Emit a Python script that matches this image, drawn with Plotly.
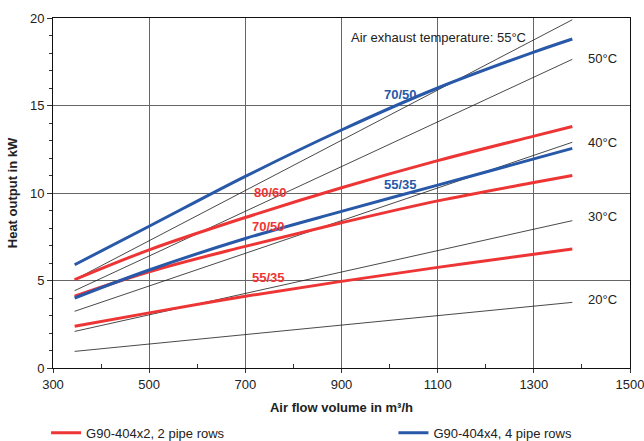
import plotly.graph_objects as go

airflow = [345, 500, 700, 900, 1100, 1300, 1380]

# G90-404x2, 2 pipe rows (heat output, kW)
x2_80_60 = [5.05, 6.75, 8.6, 10.3, 11.85, 13.25, 13.8]
x2_70_50 = [4.1, 5.5, 6.95, 8.3, 9.55, 10.6, 11.0]
x2_55_35 = [2.38, 3.15, 4.1, 4.95, 5.75, 6.5, 6.8]

# G90-404x4, 4 pipe rows
x4_70_50 = [5.9, 8.1, 10.95, 13.6, 16.0, 18.05, 18.8]
x4_55_35 = [4.0, 5.6, 7.4, 8.95, 10.45, 11.95, 12.55]

# air exhaust temperature lines (start / end)
temp_x = [345, 1380]
temp_labels = ["55°C", "50°C", "40°C", "30°C", "20°C"]
temp_values = [[5.05, 19.9], [4.42, 17.64], [3.24, 12.9], [2.09, 8.42], [0.95, 3.75]]

RED = "#ee3535"
BLUE = "#2858a8"
FONT = "Liberation Sans, Arial, sans-serif"
FS = 13

fig = go.Figure()

# thin black temperature lines
for lab, vals in zip(temp_labels, temp_values):
    fig.add_trace(go.Scatter(x=temp_x, y=vals, mode="lines", showlegend=False,
                             line=dict(color="#1a1a1a", width=0.8), hoverinfo="skip"))

# coloured curves
for ys, col, name, show, leg in [
    (x2_80_60, RED, "G90-404x2, 2 pipe rows", True, "legend"),
    (x2_70_50, RED, "G90-404x2, 2 pipe rows", False, "legend"),
    (x2_55_35, RED, "G90-404x2, 2 pipe rows", False, "legend"),
    (x4_70_50, BLUE, "G90-404x4, 4 pipe rows", True, "legend2"),
    (x4_55_35, BLUE, "G90-404x4, 4 pipe rows", False, "legend2"),
]:
    fig.add_trace(go.Scatter(x=airflow, y=ys, mode="lines", name=name, showlegend=show,
                             legend=leg,
                             line=dict(color=col, width=3, shape="spline", smoothing=1)))

# curve labels
for txt, x, y, col in [
    ("80/60", 752, 10.05, RED),
    ("70/50", 748, 8.1, RED),
    ("55/35", 748, 5.15, RED),
    ("70/50", 1022, 15.65, BLUE),
    ("55/35", 1022, 10.5, BLUE),
]:
    fig.add_annotation(x=x, y=y, text=f"<b>{txt}</b>", showarrow=False,
                       font=dict(color=col, size=FS, family=FONT))

# temperature labels
fig.add_annotation(x=1288, y=18.9, text="Air exhaust temperature: 55°C", showarrow=False,
                   xanchor="right", font=dict(color="#222", size=FS, family=FONT))
for lab, y in zip(temp_labels[1:], [17.7, 12.9, 8.65, 3.9]):
    fig.add_annotation(x=1408, y=y, text=lab, showarrow=False, xanchor="left",
                       font=dict(color="#222", size=FS, family=FONT))

fig.update_xaxes(range=[300, 1500], tickvals=[300, 500, 700, 900, 1100, 1300, 1500],
                 showgrid=True, gridcolor="#666", gridwidth=1,
                 ticks="outside", ticklen=4, tickcolor="#333", ticklabeloverflow="allow",
                 minor=dict(tickvals=[400, 600, 800, 1000, 1200, 1400], ticks="inside",
                            ticklen=4, tickcolor="#333", showgrid=False),
                 showline=True, linecolor="#111", linewidth=1, mirror=True, zeroline=False,
                 title=dict(text="<b>Air flow volume in m³/h</b>", standoff=12,
                            font=dict(size=FS, color="#222", family=FONT)),
                 tickfont=dict(size=FS, color="#222", family=FONT))
fig.update_yaxes(range=[0, 20], tickvals=[0, 5, 10, 15, 20],
                 showgrid=True, gridcolor="#666", gridwidth=1,
                 ticks="outside", ticklen=5, tickcolor="#333",
                 minor=dict(dtick=1, ticks="outside", ticklen=3, tickcolor="#333", showgrid=False),
                 showline=True, linecolor="#111", linewidth=1, mirror=True, zeroline=False,
                 title=dict(text="<b>Heat output in kW</b>", standoff=9,
                            font=dict(size=FS, color="#222", family=FONT)),
                 tickfont=dict(size=FS, color="#222", family=FONT))

leg_style = dict(orientation="h", y=-0.228, xanchor="left", yanchor="bottom",
                 font=dict(size=FS, color="#222", family=FONT), bgcolor="rgba(0,0,0,0)")
fig.update_layout(
    width=644, height=441,
    margin=dict(l=53, r=14, t=18, b=73, autoexpand=False),
    plot_bgcolor="white", paper_bgcolor="white",
    font=dict(family=FONT, size=FS, color="#222"),
    legend=dict(x=-0.012, **leg_style),
    legend2=dict(x=0.59, **leg_style),
)

fig.write_html("out.html", config={"displayModeBar": False},
               post_script="document.body.style.margin='0px';")
